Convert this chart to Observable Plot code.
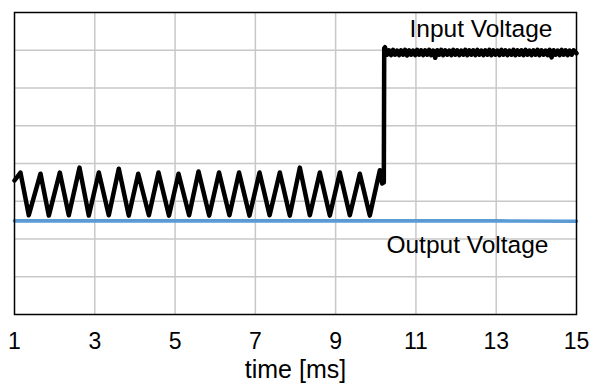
<!DOCTYPE html>
<html>
<head>
<meta charset="utf-8">
<script src="https://cdn.jsdelivr.net/npm/d3@7"></script>
<script src="https://cdn.jsdelivr.net/npm/@observablehq/plot@0.6"></script>
<style>
  html, body { margin: 0; padding: 0; background: #fff; }
</style>
</head>
<body>
<div id="chart"></div>
<script>
// ---- data ----
const timeTicks = [1, 3, 5, 7, 9, 11, 13, 15];
const levelGrid = [1, 2, 3, 4, 5, 6, 7];

// Input voltage: ripple section (start, peaks/troughs interleaved), step, high level
const inputTime = [
  1.00, 1.149, 1.356, 1.648, 1.855, 2.129, 2.353, 2.619, 2.851, 3.100, 3.349,
  3.598, 3.847, 4.082, 4.348, 4.587, 4.849, 5.086, 5.350, 5.584, 5.850,
  6.095, 6.354, 6.593, 6.854, 7.104, 7.355, 7.609, 7.858, 8.108, 8.357,
  8.606, 8.855, 9.104, 9.353, 9.602, 9.851, 10.101, 10.16, 10.20, 10.21, 10.23,
  10.28, 10.33, 10.38, 10.43, 10.48, 10.53, 10.58, 10.63, 10.68, 10.73,
  10.78, 10.83, 10.88, 10.93, 10.98, 11.03, 11.08, 11.13, 11.18, 11.23,
  11.28, 11.33, 11.38, 11.43, 11.48, 11.53, 11.58, 11.63, 11.68, 11.73,
  11.78, 11.83, 11.88, 11.93, 11.98, 12.03, 12.08, 12.13, 12.18, 12.23,
  12.28, 12.33, 12.38, 12.43, 12.48, 12.53, 12.58, 12.63, 12.68, 12.73,
  12.78, 12.83, 12.88, 12.93, 12.98, 13.03, 13.08, 13.13, 13.18, 13.23,
  13.28, 13.33, 13.38, 13.43, 13.48, 13.53, 13.58, 13.63, 13.68, 13.73,
  13.78, 13.83, 13.88, 13.93, 13.98, 14.03, 14.08, 14.13, 14.18, 14.23,
  14.28, 14.33, 14.38, 14.43, 14.48, 14.53, 14.58, 14.63, 14.68, 14.73,
  14.78, 14.83, 14.88, 14.93, 15.00
];
const inputValue = [
  3.55, 3.76, 2.63, 3.73, 2.62, 3.76, 2.63, 3.89, 2.62, 3.76, 2.63,
  3.86, 2.62, 3.73, 2.63, 3.76, 2.62, 3.73, 2.63, 3.79, 2.62,
  3.76, 2.63, 3.76, 2.62, 3.76, 2.63, 3.76, 2.62, 3.89, 2.63,
  3.76, 2.62, 3.76, 2.63, 3.73, 2.62, 3.82, 3.47, 3.50, 7.05, 7.08,
  6.88, 7.00, 6.87, 7.01, 6.88, 6.99, 6.87, 7.00, 6.88, 7.01,
  6.86, 7.00, 6.88, 6.99, 6.87, 7.01, 6.88, 7.00, 6.87, 7.00,
  6.88, 7.01, 6.87, 6.99, 6.80, 7.00, 6.88, 7.01, 6.87, 7.00,
  6.88, 6.99, 6.87, 7.01, 6.88, 7.00, 6.87, 6.99, 6.88, 7.01,
  6.87, 7.00, 6.88, 7.00, 6.87, 7.01, 6.88, 6.99, 6.87, 7.00,
  6.88, 7.01, 6.87, 7.00, 6.88, 6.99, 6.87, 7.01, 6.88, 7.00,
  6.87, 6.99, 6.88, 7.01, 6.87, 7.00, 6.88, 7.00, 6.87, 7.01,
  6.88, 6.99, 6.87, 7.00, 6.88, 7.01, 6.87, 7.00, 6.88, 6.99,
  6.87, 7.01, 6.81, 7.00, 6.88, 6.99, 6.87, 7.01, 6.88, 7.00,
  6.87, 6.99, 6.88, 7.00, 6.92
];

// Output voltage: flat
const outputTime = [1, 3, 5, 7, 9, 11, 13, 15];
const outputValue = [2.48, 2.48, 2.48, 2.48, 2.48, 2.48, 2.48, 2.47];

const xLabel = "time [ms]";
const inputLabel = "Input Voltage";
const outputLabel = "Output Voltage";

// ---- build tables ----
const inputData = inputTime.map((t, i) => ({t, v: inputValue[i]}));
const outputData = outputTime.map((t, i) => ({t, v: outputValue[i]}));

const font = "'Liberation Sans', Arial, sans-serif";

const chart = Plot.plot({
  width: 592,
  height: 385,
  marginLeft: 14,
  marginRight: 16,
  marginTop: 12,
  marginBottom: 71,
  style: {fontFamily: font, fontSize: "23px", color: "#000", background: "#fff"},
  x: {domain: [1, 15], ticks: timeTicks, tickSize: 0, tickPadding: 18, label: null, tickFormat: d => String(d)},
  y: {domain: [0, 8], axis: null},
  marks: [
    Plot.ruleX(timeTicks.slice(1, -1), {stroke: "#c8c8c8", strokeWidth: 1.5}),
    Plot.ruleY(levelGrid, {stroke: "#c8c8c8", strokeWidth: 1.5}),
    Plot.line(inputData, {x: "t", y: "v", stroke: "#000", strokeWidth: 4.5, strokeLinejoin: "round"}),
    Plot.line(outputData, {x: "t", y: "v", stroke: "#5b9bd5", strokeWidth: 3.6}),
    Plot.frame({stroke: "#000", strokeWidth: 1.5}),
    Plot.text([inputLabel], {frameAnchor: "top-right", textAnchor: "end", lineAnchor: "bottom", dx: -24, dy: 24, fontSize: 24.5, fill: "#000"}),
    Plot.text([outputLabel], {frameAnchor: "bottom-right", textAnchor: "end", lineAnchor: "bottom", dx: -28, dy: -62, fontSize: 24.5, fill: "#000"}),
    Plot.text([xLabel], {frameAnchor: "bottom", lineAnchor: "bottom", dy: 63, fontSize: 25, fill: "#000"})
  ]
});
document.getElementById("chart").appendChild(chart);
</script>
</body>
</html>
